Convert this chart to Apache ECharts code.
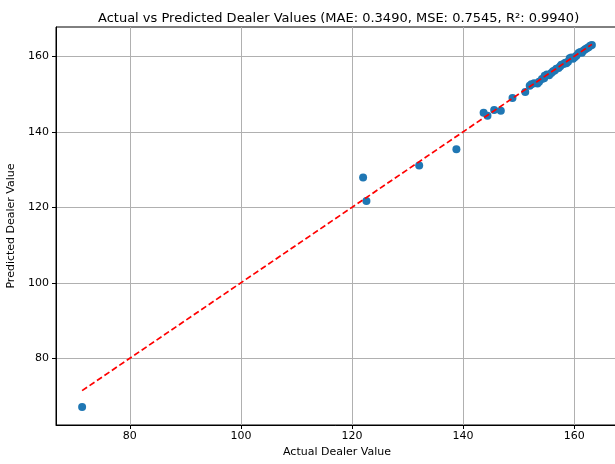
<!DOCTYPE html>
<html>
<head>
<meta charset="utf-8">
<script src="https://cdn.jsdelivr.net/npm/echarts@6/dist/echarts.min.js"></script>
<style>
  html, body { margin: 0; padding: 0; background: #fff; }
  #chart { width: 615px; height: 464px; }
</style>
</head>
<body>
<div id="chart"></div>
<script>
  // values
  const actualValues = [
    71.4, 122.0, 122.6, 132.1, 138.8, 143.7, 144.4, 145.6, 146.8, 148.9,
    151.2, 152.0, 152.3, 152.8, 153.4, 153.7, 154.2, 154.6, 154.7, 155.1,
    155.5, 155.9, 156.2, 156.5, 156.8, 157.2, 157.5, 157.7, 158.1, 158.4,
    158.6, 158.9, 159.2, 159.5, 159.8, 160.1, 160.4, 160.8, 161.1, 161.4,
    161.7, 162.0, 162.3, 162.6, 162.9, 163.2
  ];
  const predictedValues = [
    67.1, 127.9, 121.7, 131.1, 135.4, 145.1, 144.3, 145.8, 145.6, 149.0,
    150.6, 152.2, 152.6, 152.9, 152.8, 153.3, 154.0, 154.2, 154.9, 155.2,
    155.0, 155.6, 156.1, 156.3, 156.7, 156.9, 157.4, 157.8, 158.0, 158.3,
    158.2, 158.6, 159.5, 159.7, 159.4, 159.8, 160.2, 160.9, 161.2, 161.0,
    161.6, 161.9, 162.2, 162.4, 162.8, 163.0
  ];
  const xTicks = [80, 100, 120, 140, 160];
  const yTicks = [80, 100, 120, 140, 160];
  const chartTitle = 'Actual vs Predicted Dealer Values (MAE: 0.3490, MSE: 0.7545, R²: 0.9940)';

  const points = actualValues.map((a, i) => [a, predictedValues[i]]);
  const lo = Math.min(...actualValues);
  const hi = Math.max(...actualValues);

  const font = 'DejaVu Sans';
  const chart = echarts.init(document.getElementById('chart'));
  chart.setOption({
    animation: false,
    title: {
      text: chartTitle,
      left: 93,
      top: 7,
      textStyle: { fontFamily: font, fontSize: 13, fontWeight: 'normal', color: '#000' }
    },
    grid: {
      left: 56, top: 27, width: 562, height: 398,
      outerBoundsMode: 'none',
      containLabel: false,
      show: true, borderColor: '#000', borderWidth: 1
    },
    xAxis: {
      type: 'value',
      min: 66.7, max: 167.9,
      name: 'Actual Dealer Value',
      nameLocation: 'middle',
      nameGap: 22,
      nameTextStyle: { fontFamily: font, fontSize: 11, color: '#000' },
      axisLine: { show: true, lineStyle: { color: '#000', width: 1 } },
      axisTick: { show: true, length: 4, customValues: xTicks, lineStyle: { color: '#000' } },
      axisLabel: { customValues: xTicks, margin: 6, fontFamily: font, fontSize: 11, color: '#000' },
      splitLine: { show: true, lineStyle: { color: '#b0b0b0', width: 1 } }
    },
    yAxis: {
      type: 'value',
      min: 62.3, max: 167.8,
      name: 'Predicted Dealer Value',
      nameLocation: 'middle',
      nameGap: 29,
      nameTextStyle: { fontFamily: font, fontSize: 11, color: '#000' },
      axisLine: { show: true, lineStyle: { color: '#000', width: 1 } },
      axisTick: { show: true, length: 4, customValues: yTicks, lineStyle: { color: '#000' } },
      axisLabel: { customValues: yTicks, margin: 7, fontFamily: font, fontSize: 11, color: '#000' },
      splitLine: { show: true, lineStyle: { color: '#b0b0b0', width: 1 } }
    },
    series: [
      {
        type: 'scatter',
        data: points,
        symbolSize: 8,
        itemStyle: { color: '#1f77b4', opacity: 1 },
        z: 2
      },
      {
        type: 'line',
        data: [[lo, lo], [hi, hi]],
        symbol: 'none',
        lineStyle: { color: '#ff0000', width: 1.7, type: [6, 3] },
        z: 3
      }
    ]
  });
</script>
</body>
</html>
